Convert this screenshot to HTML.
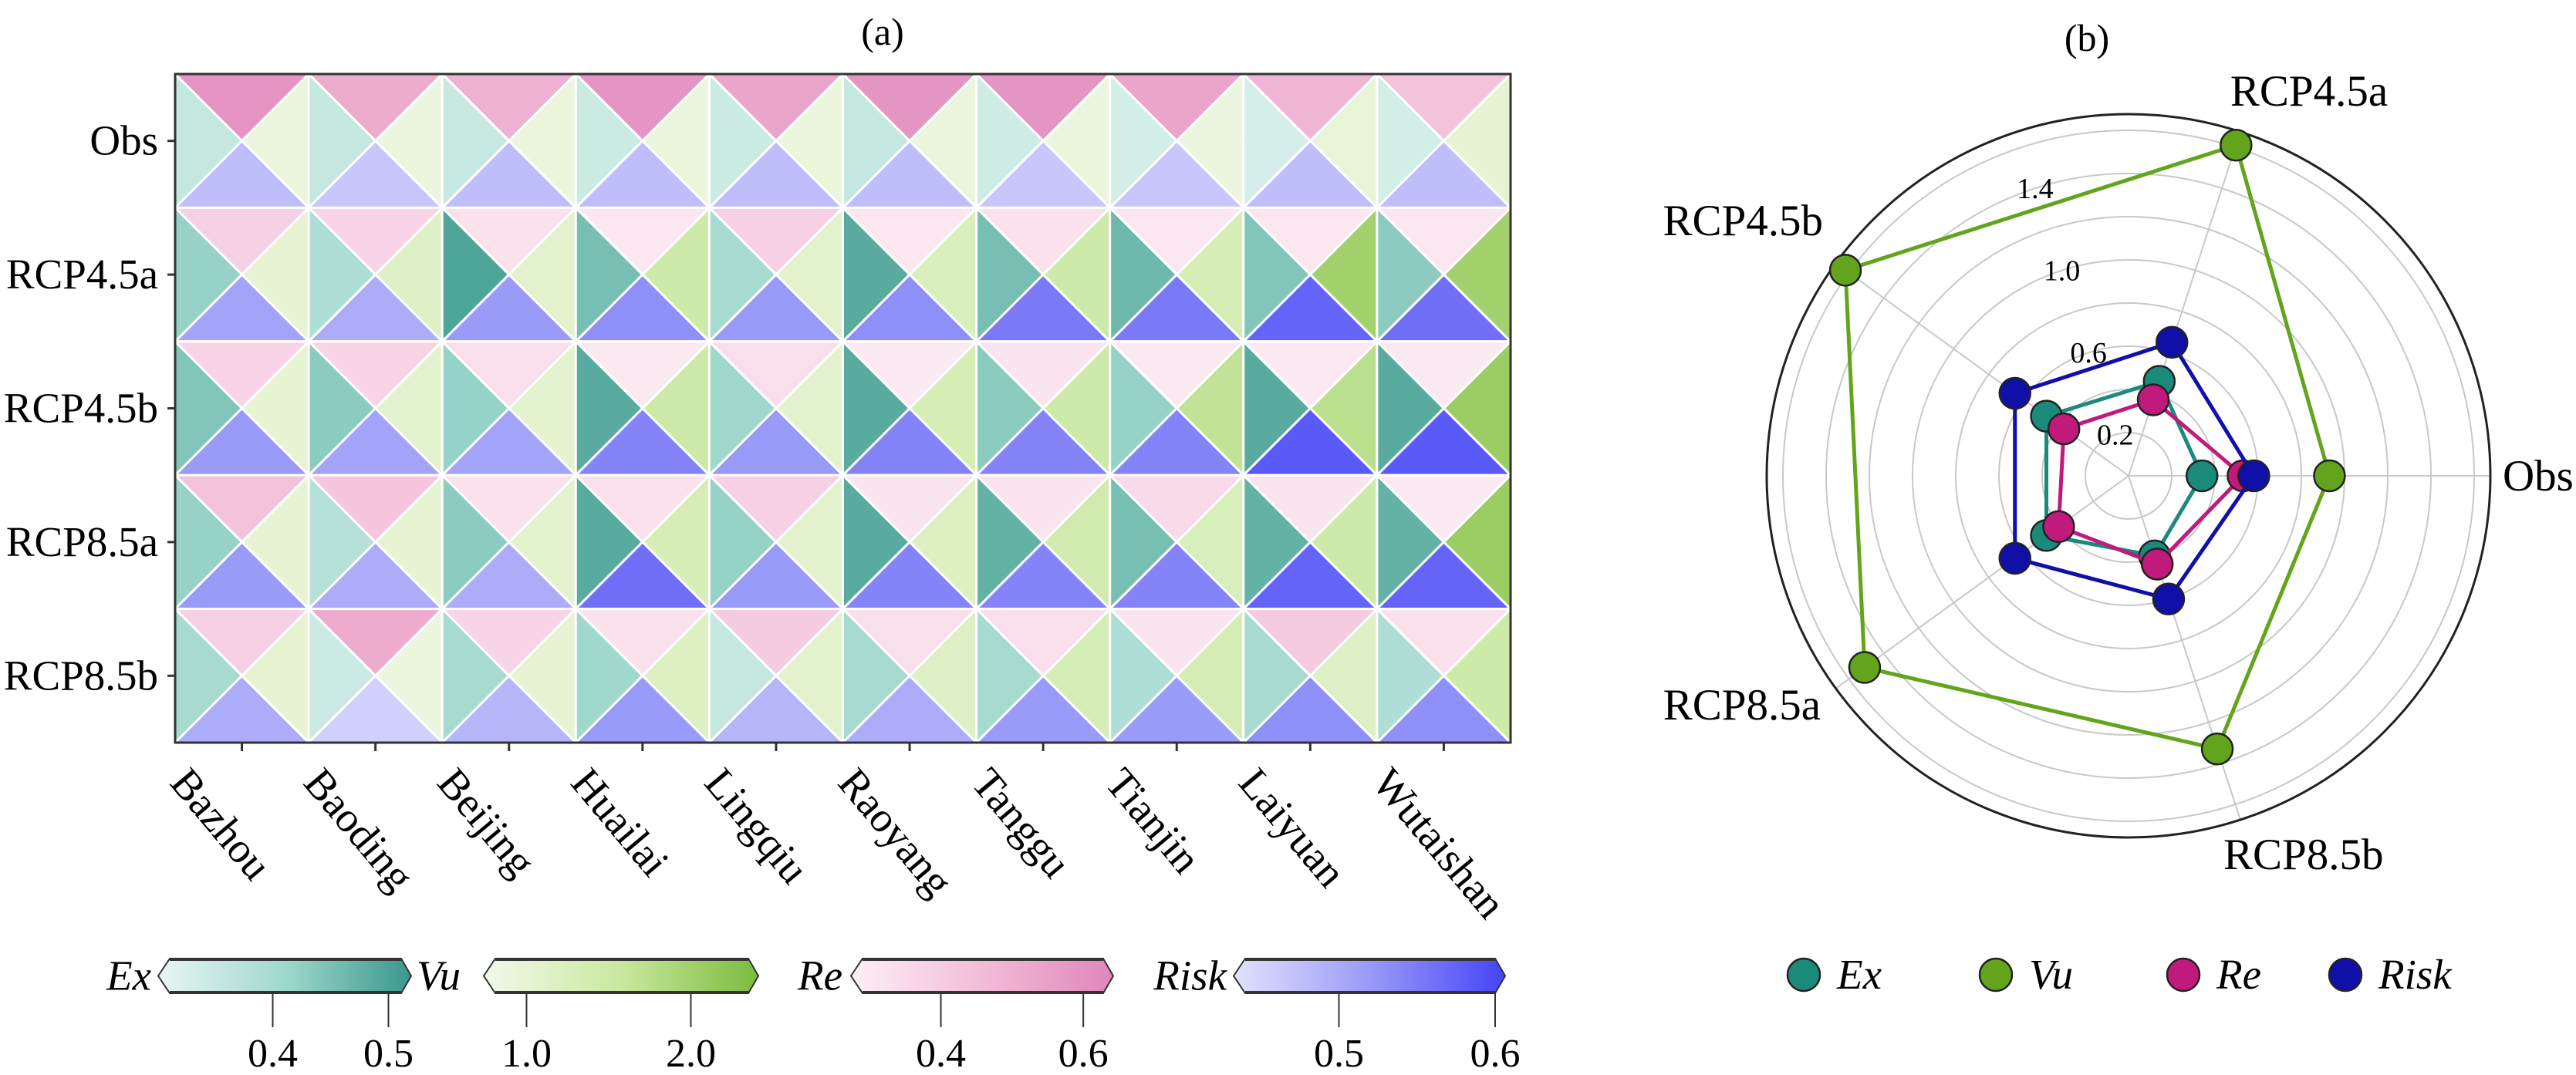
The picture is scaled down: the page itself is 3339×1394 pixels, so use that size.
<!DOCTYPE html>
<html><head><meta charset="utf-8"><style>
html,body{margin:0;padding:0;background:#fff;}
svg{display:block;font-family:"Liberation Serif",serif;}
</style></head><body>
<svg id="chart" width="3339" height="1394" viewBox="0 0 3339 1394" xmlns="http://www.w3.org/2000/svg">
<defs>
<linearGradient id="gEx" x1="0" x2="1" y1="0" y2="0"><stop offset="0" stop-color="#e8f5f3"/><stop offset="0.5" stop-color="#9fd8cd"/><stop offset="1" stop-color="#3b978b"/></linearGradient>
<linearGradient id="gVu" x1="0" x2="1" y1="0" y2="0"><stop offset="0" stop-color="#f3f9ea"/><stop offset="0.5" stop-color="#c9e8a0"/><stop offset="1" stop-color="#7cbb3d"/></linearGradient>
<linearGradient id="gRe" x1="0" x2="1" y1="0" y2="0"><stop offset="0" stop-color="#fdf0f5"/><stop offset="0.5" stop-color="#f2bcd8"/><stop offset="1" stop-color="#e086b8"/></linearGradient>
<linearGradient id="gRisk" x1="0" x2="1" y1="0" y2="0"><stop offset="0" stop-color="#e2e2fd"/><stop offset="0.5" stop-color="#9a9af8"/><stop offset="1" stop-color="#4444f8"/></linearGradient>
</defs>
<text x="1144" y="58" font-size="50" text-anchor="middle">(a)</text>
<text x="2705" y="66" font-size="50" text-anchor="middle">(b)</text>
<g id="heat"></g>
<g id="cbars"></g>
<g id="radar"></g>
</svg>
<script>
const stations = ["Bazhou","Baoding","Beijing","Huailai","Lingqiu","Raoyang","Tanggu","Tianjin","Laiyuan","Wutaishan"];
const scenarios = ["Obs","RCP4.5a","RCP4.5b","RCP8.5a","RCP8.5b"];
const reVals = [
 [0.58,0.51,0.49,0.58,0.53,0.58,0.58,0.53,0.48,0.44],
 [0.39,0.38,0.34,0.32,0.39,0.32,0.34,0.32,0.32,0.32],
 [0.38,0.38,0.35,0.31,0.35,0.31,0.33,0.31,0.31,0.31],
 [0.44,0.43,0.34,0.34,0.39,0.33,0.33,0.36,0.33,0.31],
 [0.39,0.51,0.38,0.34,0.41,0.35,0.35,0.33,0.41,0.34]];
const exVals = [
 [0.36,0.36,0.355,0.35,0.35,0.36,0.345,0.34,0.335,0.34],
 [0.42,0.39,0.49,0.45,0.40,0.48,0.45,0.46,0.44,0.43],
 [0.44,0.43,0.42,0.48,0.41,0.48,0.43,0.42,0.48,0.48],
 [0.42,0.38,0.43,0.48,0.42,0.48,0.47,0.45,0.47,0.47],
 [0.40,0.35,0.40,0.41,0.36,0.40,0.40,0.39,0.40,0.39]];
const vuVals = [
 [0.93,0.93,0.96,0.96,0.96,0.93,0.93,0.93,1.0,1.04],
 [1.04,1.2,1.12,1.5,1.12,1.27,1.5,1.35,1.97,1.97],
 [1.04,1.12,1.09,1.5,1.12,1.35,1.5,1.66,1.73,2.04],
 [1.04,1.04,1.09,1.35,1.12,1.24,1.43,1.27,1.5,2.04],
 [1.04,0.93,1.04,1.24,1.12,1.2,1.35,1.35,1.2,1.5]];
const riskVals = [
 [0.48,0.47,0.48,0.48,0.48,0.48,0.47,0.47,0.48,0.48],
 [0.51,0.50,0.52,0.53,0.52,0.53,0.55,0.55,0.57,0.56],
 [0.52,0.51,0.51,0.54,0.52,0.54,0.54,0.54,0.58,0.58],
 [0.52,0.50,0.50,0.56,0.52,0.54,0.54,0.54,0.57,0.57],
 [0.50,0.46,0.49,0.52,0.49,0.50,0.52,0.52,0.53,0.53]];
const radarCats = ["Obs","RCP4.5a","RCP4.5b","RCP8.5a","RCP8.5b"];
const radarEx = [0.34,0.46,0.47,0.47,0.39];
const radarVu = [0.93,1.61,1.62,1.51,1.33];
const radarRe = [0.53,0.37,0.37,0.40,0.43];
const radarRisk = [0.58,0.65,0.65,0.65,0.60];
const radarTicks = [0.2,0.6,1.0,1.4];
const radarRings = [0.2,0.4,0.6,0.8,1.0,1.2,1.4,1.6];
const exTicks = [0.4,0.5], vuTicks = [1.0,2.0], reTicks = [0.4,0.6], riskTicks = [0.5,0.6];

const NS="http://www.w3.org/2000/svg";
function mk(tag, attrs, parent){const e=document.createElementNS(NS,tag);for(const k in attrs)e.setAttribute(k,attrs[k]);parent.appendChild(e);return e;}
function hex(h){return [parseInt(h.substr(1,2),16),parseInt(h.substr(3,2),16),parseInt(h.substr(5,2),16)];}
function cmap(stops,t){t=Math.max(0,Math.min(1,t));let a,b,f;if(t<=0.5){a=hex(stops[0]);b=hex(stops[1]);f=t/0.5;}else{a=hex(stops[1]);b=hex(stops[2]);f=(t-0.5)/0.5;}
 return "rgb("+a.map((v,i)=>Math.round(v+(b[i]-v)*f)).join(",")+")";}
const scales = {
 ex:{min:0.311,max:0.511,stops:["#e8f5f3","#9fd8cd","#3b978b"],x0:220,x1:520},
 vu:{min:0.81,max:2.35,stops:["#f3f9ea","#c9e8a0","#7cbb3d"],x0:642,x1:970},
 re:{min:0.29,max:0.628,stops:["#fdf0f5","#f2bcd8","#e086b8"],x0:1118,x1:1430},
 risk:{min:0.44,max:0.60,stops:["#e2e2fd","#9a9af8","#4444f8"],x0:1614,x1:1938}};
function col(s,v){return cmap(s.stops,(v-s.min)/(s.max-s.min));}

// heatmap
const heat=document.getElementById('heat');
const X0=227,Y0=96,CW=173.1,CH=173.4;
const xc=i=>X0+CW*(i+0.5), yc=j=>Y0+CH*(j+0.5);
for(let j=0;j<scenarios.length;j++){
 for(let i=0;i<stations.length;i++){
  const l=X0+CW*i,r=l+CW,t=Y0+CH*j,b=t+CH,cx=xc(i),cy=yc(j);
  const tris=[["re",reVals,`${l},${t} ${r},${t} ${cx},${cy}`],["ex",exVals,`${l},${t} ${l},${b} ${cx},${cy}`],["vu",vuVals,`${r},${t} ${r},${b} ${cx},${cy}`],["risk",riskVals,`${l},${b} ${r},${b} ${cx},${cy}`]];
  for(const [k,arr,pts] of tris){
   const p=mk('polygon',{points:pts,fill:col(scales[k],arr[j][i]),stroke:'#fff','stroke-width':3,'stroke-linejoin':'round'},heat);
   
   
  }
 }
}
mk('rect',{x:X0,y:Y0,width:CW*10,height:CH*5,fill:'none',stroke:'#333','stroke-width':3},heat);
for(let j=0;j<scenarios.length;j++){
 mk('line',{x1:X0-10,x2:X0,y1:yc(j),y2:yc(j),stroke:'#333','stroke-width':3},heat);
 const t=mk('text',{x:X0-22,y:yc(j)+18,'font-size':55,'text-anchor':'end'},heat);t.textContent=scenarios[j];
 
 
}
for(let i=0;i<stations.length;i++){
 mk('line',{x1:xc(i),x2:xc(i),y1:Y0+CH*5,y2:Y0+CH*5+11,stroke:'#333','stroke-width':3},heat);
 const x=xc(i)-95,y=1016;
 const t=mk('text',{x:x,y:y,'font-size':55,transform:`rotate(50 ${x} ${y})`},heat);t.textContent=stations[i];
 
 
}

// colorbars
const cb=document.getElementById('cbars');
const cbDefs=[["ex","Ex","gEx",exTicks,"end",196],["vu","Vu","gVu",vuTicks,"start",540],["re","Re","gRe",reTicks,"end",1092],["risk","Risk","gRisk",riskTicks,"end",1590]];
const cbT=1243,cbB=1288,cbM=(cbT+cbB)/2;
for(const [k,lab,g,ticks,anch,lx] of cbDefs){
 const s=scales[k];
 const grp=mk('g',{},cb);
 
 
 mk('polygon',{points:`${s.x0-15},${cbM} ${s.x0},${cbT} ${s.x1},${cbT} ${s.x1+13},${cbM} ${s.x1},${cbB} ${s.x0},${cbB}`,fill:`url(#${g})`,stroke:'#333','stroke-width':2},grp);
 mk('line',{x1:s.x0,x2:s.x1,y1:cbT+1,y2:cbT+1,stroke:'#333','stroke-width':4},grp);
 mk('line',{x1:s.x0,x2:s.x1,y1:cbB-1,y2:cbB-1,stroke:'#333','stroke-width':4},grp);
 const tl=mk('text',{x:lx,y:cbM+18,'font-size':55,'font-style':'italic','text-anchor':anch},grp);tl.textContent=lab;
 for(const v of ticks){
  const x=s.x0+(v-s.min)/(s.max-s.min)*(s.x1-s.x0);
  mk('line',{x1:x,x2:x,y1:cbB,y2:1332,stroke:'#333','stroke-width':2},grp);
  const tt=mk('text',{x:x,y:1383,'font-size':52,'text-anchor':'middle'},grp);tt.textContent=v.toFixed(1);
 }
}

// radar
const rd=document.getElementById('radar');
const CX=2759,CY=617,RO=469,K=280;
const ang=i=>i*2*Math.PI/5;
const px=(v,i)=>CX+K*v*Math.cos(ang(i)), py=(v,i)=>CY-K*v*Math.sin(ang(i));
for(const r of radarRings) mk('circle',{cx:CX,cy:CY,r:K*r,fill:'none',stroke:'#c8c8c8','stroke-width':2},rd);
for(let i=0;i<5;i++) mk('line',{x1:CX,y1:CY,x2:CX+RO*Math.cos(ang(i)),y2:CY-RO*Math.sin(ang(i)),stroke:'#c8c8c8','stroke-width':2},rd);
mk('circle',{cx:CX,cy:CY,r:RO,fill:'none',stroke:'#222','stroke-width':3},rd);
for(const v of radarTicks){
 const a=108*Math.PI/180;
 const t=mk('text',{x:CX+K*v*Math.cos(a),y:CY-K*v*Math.sin(a)+13,'font-size':38,'text-anchor':'middle'},rd);t.textContent=v.toFixed(1);
 
 
}
const catPos=[[3244,636,"start"],[2993,137,"middle"],[2363,305,"end"],[2360,933,"end"],[2882,1127,"start"]];
radarCats.forEach((c,i)=>{const t=mk('text',{x:catPos[i][0],y:catPos[i][1],'font-size':57,'text-anchor':catPos[i][2]},rd);t.textContent=c;
 
 });
const series=[["ex",radarEx,"#1b8a7a"],["vu",radarVu,"#63a41c"],["re",radarRe,"#c01a7c"],["risk",radarRisk,"#1010a8"]];
for(const [k,vals,c] of series){
 const g=mk('g',{},rd);
 
 
 const pts=vals.map((v,i)=>px(v,i)+","+py(v,i)).join(" ");
 mk('polygon',{points:pts,fill:'none',stroke:c,'stroke-width':5,'stroke-linejoin':'round'},g);
 vals.forEach((v,i)=>{const m=mk('circle',{cx:px(v,i),cy:py(v,i),r:20,fill:c,stroke:'#222','stroke-width':2.5},g);
  
  });
}
// legend
const legX=[2338,2587,2830,3040];const legL=["Ex","Vu","Re","Risk"];
series.forEach((s,i)=>{const g=mk('g',{},rd);
 
 
 mk('circle',{cx:legX[i],cy:1264,r:21,fill:s[2],stroke:'#222','stroke-width':2.5},g);
 const t=mk('text',{x:legX[i]+43,y:1282,'font-size':55,'font-style':'italic'},g);t.textContent=legL[i];});
</script>
</body></html>
